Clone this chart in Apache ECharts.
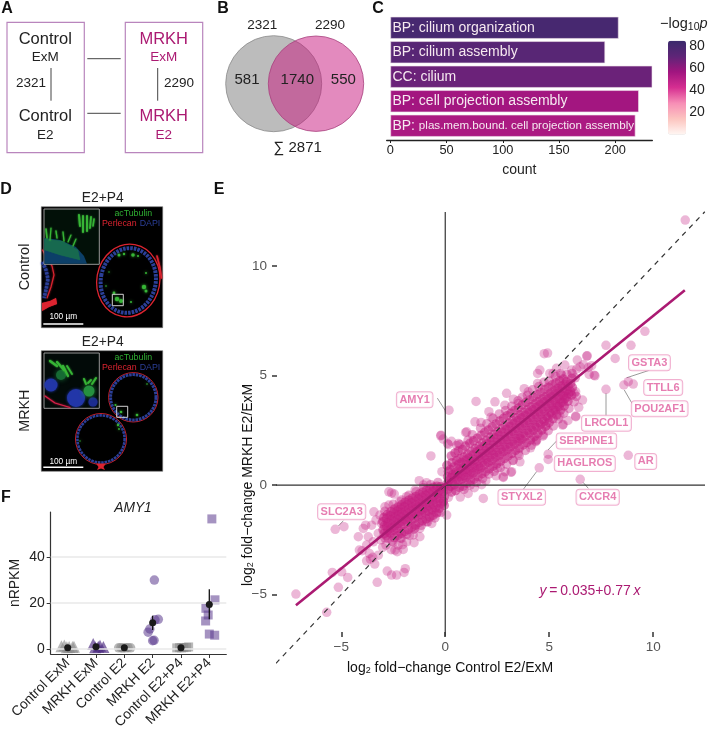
<!DOCTYPE html>
<html>
<head>
<meta charset="utf-8">
<script src="https://cdn.jsdelivr.net/npm/echarts@6/dist/echarts.min.js"></script>
<style>
  html, body { margin: 0; padding: 0; background: #fff; }
  #chart { width: 711px; height: 733px; }
</style>
</head>
<body>
<div id="chart"></div>
<script>
const FONT = '"Liberation Sans", Arial, sans-serif'
const MAGENTA = '#ab1a72'

// panel C
const goTerms = ['BP: cilium organization', 'BP: cilium assembly', 'CC: cilium', 'BP: cell projection assembly', 'BP: plas.mem.bound. cell projection assembly']
const goCounts = [203, 191, 233, 221, 218]
const goLogP = [80, 73, 68, 56, 54]
const logPTicks = [80, 60, 40, 20]

// panel F
const amyGroups = ['Control ExM', 'MRKH ExM', 'Control E2', 'MRKH E2', 'Control E2+P4', 'MRKH E2+P4']
const amyTicksY = [0, 20, 40]
const controlExm = [[-0.22, 1.2], [-0.12, 1.5], [-0.03, 0.8], [0.05, 0.9], [0.17, 0.9], [0.22, 1.0]]
const mrkhExm = [[0.9, 2.2], [0.97, 0.8], [1.08, 1.0], [1.14, 1.4], [1.26, 0.9]]
const controlE2 = [[1.8, 0.5], [1.88, 0.6], [1.95, 0.4], [2.05, 0.5], [2.13, 0.6], [2.22, 0.5]]
const mrkhE2 = [[3.06, 30], [2.9, 8.7], [2.84, 7.3], [3.2, 12.9], [3.08, 12.7], [3.05, 3.8], [3.0, 3.6]]
const controlE2P4 = [[3.85, 0.5], [3.95, 0.6], [4.02, 0.5], [4.1, 0.6], [4.2, 0.7], [4.27, 0.9]]
const mrkhE2P4 = [[5.09, 56.6], [5.2, 21.4], [4.88, 17.7], [4.96, 14.8], [4.87, 12.2], [5.0, 6.5], [5.19, 6.0]]
const amyMeans = [[0, 0.5], [1, 1], [2, 0.5], [3, 11.4], [4, 0.6], [5, 19.4]]
const amyErrors = [[3, 8.3, 14.5], [5, 12.9, 26]]

// panel E
const fcTicksX = [-5, 0, 5, 10]
const fcTicksY = [-5, 0, 5, 10]
const fitLine = [[-7.18, -5.49], [11.52, 8.9]]
const identityLine = [[-8.14, -8.14], [12.48, 12.48]]
const geneNames = ['AMY1', 'SLC2A3', 'GSTA3', 'TTLL6', 'POU2AF1', 'LRCOL1', 'SERPINE1', 'HAGLROS', 'AR', 'STYXL2', 'CXCR4']
const geneLabelX = [-1.47, -4.98, 9.82, 10.48, 10.31, 7.75, 6.79, 6.71, 9.64, 3.68, 7.33]
const geneLabelY = [3.9, -1.22, 5.59, 4.45, 3.49, 2.82, 2.01, 0.99, 1.08, -0.56, -0.56]
const geneLeaders = [
  [-0.38, 3.97, -0.01, 3.42], [-4.9, -1.63, -5.14, -1.87], [9.81, 5.24, 8.72, 4.9], [8.98, 3.73, 8.61, 4.34],
  [7.73, 3.16, 7.73, 4.19], [5.36, 2.02, 4.94, 1.6], [3.75, -0.2, 4.39, 0.61], [6.88, -0.15, 6.63, 0.12]
]

const fcOutliers = [
  [11.54, 12.1], [9.6, 7.02], [8.93, 6.38], [7.73, 6.38], [8.17, 5.78], [8.59, 4.57], [8.8, 4.72], [9.04, 4.61],
  [7.73, 4.37], [8.8, 1.36], [6.49, 0.26], [4.52, 0.79], [4.95, 1.41], [4.95, 1.17], [1.83, -0.61],
  [0.18, 3.42], [-0.22, 2.25], [-0.69, 1.33], [-0.16, 0.61], [0.11, 1.9], [0.63, 1.9], [0.98, 2.4],
  [-7.18, -4.98], [-5.7, -5.81], [-5.43, -3.99], [-4.98, -3.96], [-4.69, -4.22], [-5.14, -4.67], [-3.27, -4.44],
  [-2.79, -3.93], [-2.58, -4.11], [-2.34, -4.11], [-1.98, -3.99], [-1.92, -3.82], [-5.29, -2.02], [-4.87, -1.9],
  [0.07, -1.37], [0.15, -0.56]
]
const fcSpreadUpper = [
  [1.48, 3.82], [2.39, 3.8], [2.95, 4.19], [4.76, 6.0], [4.92, 6.03], [6.27, 3.15], [5.64, 2.74], [5.51, 3.15],
  [6.6, 3.88], [6.2, 4.19], [7.16, 5.02], [6.8, 5.89], [6.35, 5.71], [6.48, 5.4], [6.88, 5.37], [6.64, 5.5],
  [4.55, 5.25], [4.44, 4.64], [3.99, 4.26], [3.59, 1.06], [2.79, 0.38], [3.16, 0.58], [2.87, 0.61], [4.36, 1.98],
  [-0.2, 2.28], [-0.1, 2.1], [0.3, 2.0], [0.15, 1.85], [0.55, 1.81], [1.03, 2.43], [1.43, 2.89], [2.1, 3.35],
  [2.87, 3.65], [3.51, 3.73], [4.44, 5.1], [5.03, 5.1], [5.35, 5.33], [5.75, 5.48], [6.08, 5.25], [6.83, 5.9],
  [6.32, 5.3], [6.92, 5.05], [7.2, 4.99], [7.04, 5.45], [6.27, 4.26], [6.28, 3.12], [5.67, 2.77], [5.19, 5.1],
  [4.35, 2.02], [4.87, 2.71], [3.59, 2.13], [3.51, 1.45], [3.27, 1.14], [3.19, 0.61], [2.79, 0.35], [2.45, 0.42],
  [1.95, 0.2], [1.4, -0.12], [1.1, -0.38], [0.72, -0.55], [2.2, 3.1], [1.72, 2.86], [3.28, 3.92], [3.8, 4.4],
  [5.6, 5.02], [5.9, 2.95], [6.42, 3.55], [2.5, 0.78], [1.75, 0.02], [4.1, 1.7], [4.72, 2.3]
]
const fcSpreadLower = [
  [-4.18, -2.36], [-4.13, -2.97], [-3.83, -1.83], [-3.43, -1.22], [-2.71, -0.31], [-2.45, -0.41], [-2.58, -0.36],
  [-2.71, -0.91], [-0.65, -1.75], [-1.22, -2.36], [-1.5, -2.63], [-2.02, -2.94], [-2.31, -3.04], [-3.01, -2.85],
  [-3.22, -3.2], [-3.78, -3.46], [-3.39, -3.61], [-3.65, -3.12], [-3.94, -1.98], [-3.7, -2.36], [-3.78, -2.74],
  [-3.46, -2.59], [-3.22, -2.21], [-3.54, -1.83], [-3.33, -1.6], [-3.14, -1.37], [-2.9, -0.99], [-3.06, -1.75],
  [-2.85, -2.74], [-2.74, -2.44], [-2.5, -2.59], [-2.26, -2.74], [-2.42, -2.97], [-2.1, -2.44], [-1.86, -2.59],
  [-1.54, -2.28], [-1.22, -1.98], [-1.46, -1.98], [-0.91, -1.68], [-0.65, -1.37], [-0.33, -1.22], [-0.12, -0.84],
  [-1.25, 0.2], [-0.9, 0.11], [-1.05, 0.0], [-1.45, -0.23], [-1.86, -0.53], [-2.19, -0.76], [-3.49, -3.3],
  [-3.6, -3.38], [-3.1, -2.5], [-2.62, -2.2], [-2.2, -2.1], [-4.0, -3.0], [-2.6, -2.95], [-1.72, -2.3], [-2.05, -2.72]
]
const fcFringe = [
  [0.7, 1.85], [1.1, 2.05], [1.3, 2.3], [1.7, 2.6], [2.0, 2.8], [2.3, 3.05], [2.6, 3.25], [2.9, 3.4], [3.2, 3.6], [3.5, 3.85],
  [3.7, 4.0], [3.95, 4.1], [4.2, 4.35], [4.5, 4.5], [4.75, 4.7], [5.0, 4.75], [5.3, 4.95], [5.55, 5.1], [5.85, 5.05], [6.1, 5.1], [6.25, 4.9],
  [0.9, -0.2], [1.2, 0.0], [1.5, 0.12], [1.8, 0.3], [2.1, 0.5], [2.35, 0.62], [2.65, 0.8], [2.95, 0.95], [3.25, 1.12], [3.55, 1.35],
  [3.85, 1.58], [4.15, 1.82], [4.4, 2.06], [4.7, 2.24], [4.95, 2.48], [5.2, 2.7], [5.45, 3.02], [5.7, 3.28], [5.95, 3.5], [6.2, 3.8], [6.3, 4.05],
  [-2.9, -1.2], [-2.5, -0.88], [-2.1, -0.68], [-1.75, -0.47], [-1.4, -0.3], [-1.05, -0.12], [-0.7, 0.02], [-0.35, 0.12],
  [-2.9, -2.42], [-2.55, -2.55], [-2.15, -2.42], [-1.85, -2.25], [-1.5, -2.02], [-1.15, -1.84], [-0.85, -1.68], [-0.5, -1.5], [-0.2, -1.25]
]
const fcCoreUpper = [
  [0.14, -0.18], [0.09, 0.05], [0.17, 0.21], [0.11, 0.38], [0.15, 0.62], [0.08, 0.9],
  [0.31, -0.32], [0.26, -0.06], [0.34, 0.14], [0.28, 0.33], [0.35, 0.47], [0.25, 0.71], [0.33, 1.02], [0.29, 1.33],
  [0.5, -0.25], [0.44, 0.02], [0.53, 0.26], [0.46, 0.41], [0.51, 0.58], [0.42, 0.83], [0.55, 1.12], [0.47, 1.47],
  [0.68, -0.11], [0.63, 0.18], [0.72, 0.37], [0.61, 0.52], [0.7, 0.74], [0.64, 0.95], [0.71, 1.21], [0.62, 1.55],
  [0.86, -0.05], [0.8, 0.27], [0.89, 0.44], [0.81, 0.66], [0.87, 0.81], [0.79, 1.03], [0.9, 1.28], [0.83, 1.62],
  [1.05, 0.09], [0.98, 0.35], [1.07, 0.58], [0.99, 0.72], [1.04, 0.93], [1.0, 1.14], [1.08, 1.41], [0.97, 1.78],
  [1.22, 0.21], [1.16, 0.47], [1.25, 0.63], [1.17, 0.88], [1.23, 1.06], [1.15, 1.24], [1.26, 1.53], [1.18, 1.91],
  [1.4, 0.28], [1.34, 0.56], [1.43, 0.79], [1.35, 0.97], [1.41, 1.16], [1.33, 1.37], [1.44, 1.66], [1.36, 2.02],
  [1.58, 0.39], [1.52, 0.69], [1.61, 0.86], [1.53, 1.09], [1.59, 1.31], [1.51, 1.52], [1.62, 1.77], [1.54, 2.14],
  [1.76, 0.52], [1.7, 0.78], [1.79, 1.02], [1.71, 1.23], [1.77, 1.44], [1.69, 1.63], [1.8, 1.92], [1.72, 2.27],
  [1.94, 0.61], [1.88, 0.91], [1.97, 1.15], [1.89, 1.34], [1.95, 1.56], [1.87, 1.78], [1.98, 2.03], [1.9, 2.41],
  [2.12, 0.74], [2.06, 1.03], [2.15, 1.26], [2.07, 1.49], [2.13, 1.68], [2.05, 1.89], [2.16, 2.18], [2.08, 2.52],
  [2.3, 0.86], [2.24, 1.12], [2.33, 1.38], [2.25, 1.57], [2.31, 1.82], [2.23, 2.03], [2.34, 2.31], [2.26, 2.66],
  [2.48, 0.97], [2.42, 1.27], [2.51, 1.49], [2.43, 1.72], [2.49, 1.94], [2.41, 2.16], [2.52, 2.44], [2.44, 2.79],
  [2.66, 1.09], [2.6, 1.36], [2.69, 1.62], [2.61, 1.83], [2.67, 2.07], [2.59, 2.28], [2.7, 2.57], [2.62, 2.93],
  [2.84, 1.21], [2.78, 1.51], [2.87, 1.74], [2.79, 1.97], [2.85, 2.19], [2.77, 2.41], [2.88, 2.71], [2.8, 3.05],
  [3.02, 1.33], [2.96, 1.6], [3.05, 1.87], [2.97, 2.08], [3.03, 2.33], [2.95, 2.55], [3.06, 2.83], [2.98, 3.17],
  [3.2, 1.44], [3.14, 1.74], [3.23, 1.98], [3.15, 2.22], [3.21, 2.46], [3.13, 2.67], [3.24, 2.96], [3.16, 3.28],
  [3.38, 1.58], [3.32, 1.85], [3.41, 2.11], [3.33, 2.34], [3.39, 2.59], [3.31, 2.82], [3.42, 3.09], [3.34, 3.41],
  [3.56, 1.69], [3.5, 1.98], [3.59, 2.24], [3.51, 2.47], [3.57, 2.71], [3.49, 2.94], [3.6, 3.21], [3.52, 3.52],
  [3.74, 1.83], [3.68, 2.09], [3.77, 2.36], [3.69, 2.6], [3.75, 2.84], [3.67, 3.07], [3.78, 3.33], [3.7, 3.66],
  [3.92, 1.94], [3.86, 2.23], [3.95, 2.49], [3.87, 2.73], [3.93, 2.96], [3.85, 3.19], [3.96, 3.46], [3.88, 3.78],
  [4.1, 2.06], [4.04, 2.37], [4.13, 2.62], [4.05, 2.85], [4.11, 3.09], [4.03, 3.32], [4.14, 3.58], [4.06, 3.89],
  [4.28, 2.21], [4.22, 2.48], [4.31, 2.74], [4.23, 2.98], [4.29, 3.22], [4.21, 3.44], [4.32, 3.71], [4.24, 4.01],
  [4.46, 2.36], [4.4, 2.62], [4.49, 2.87], [4.41, 3.11], [4.47, 3.34], [4.39, 3.57], [4.5, 3.83], [4.42, 4.13],
  [4.64, 2.51], [4.58, 2.76], [4.67, 3.01], [4.59, 3.24], [4.65, 3.47], [4.57, 3.69], [4.68, 3.94], [4.6, 4.24],
  [4.82, 2.68], [4.76, 2.91], [4.85, 3.14], [4.77, 3.37], [4.83, 3.59], [4.75, 3.81], [4.86, 4.06], [4.78, 4.36],
  [5.0, 2.86], [4.94, 3.07], [5.03, 3.29], [4.95, 3.51], [5.01, 3.72], [4.93, 3.94], [5.04, 4.18], [4.96, 4.47],
  [5.18, 3.03], [5.12, 3.24], [5.21, 3.43], [5.13, 3.64], [5.19, 3.85], [5.11, 4.06], [5.22, 4.29], [5.14, 4.58],
  [5.36, 3.21], [5.3, 3.41], [5.39, 3.58], [5.31, 3.78], [5.37, 3.97], [5.29, 4.18], [5.4, 4.41], [5.32, 4.67],
  [5.54, 3.42], [5.48, 3.59], [5.57, 3.76], [5.49, 3.93], [5.55, 4.11], [5.47, 4.29], [5.58, 4.52], [5.5, 4.76],
  [5.72, 3.61], [5.66, 3.79], [5.75, 3.94], [5.67, 4.08], [5.73, 4.24], [5.65, 4.41], [5.76, 4.61], [5.68, 4.84],
  [5.9, 3.83], [5.84, 4.02], [5.93, 4.17], [5.85, 4.33], [5.91, 4.51], [5.83, 4.72],
  [6.08, 4.11], [6.02, 4.28], [6.11, 4.46], [6.03, 4.63], [6.09, 4.88]
]
const fcCoreLower = [
  [-0.06, -0.12], [-0.11, -0.3], [-0.04, -0.52], [-0.09, -0.74], [-0.05, -0.93],
  [-0.23, -0.08], [-0.28, -0.24], [-0.21, -0.41], [-0.27, -0.63], [-0.22, -0.85], [-0.29, -1.07],
  [-0.4, -0.05], [-0.45, -0.22], [-0.38, -0.43], [-0.44, -0.61], [-0.39, -0.82], [-0.46, -1.04], [-0.41, -1.27],
  [-0.57, -0.1], [-0.62, -0.28], [-0.55, -0.5], [-0.61, -0.69], [-0.56, -0.9], [-0.63, -1.12], [-0.58, -1.38],
  [-0.74, -0.16], [-0.79, -0.37], [-0.72, -0.58], [-0.78, -0.78], [-0.73, -0.97], [-0.8, -1.19], [-0.75, -1.46],
  [-0.91, -0.24], [-0.96, -0.45], [-0.89, -0.66], [-0.95, -0.85], [-0.9, -1.05], [-0.97, -1.26], [-0.92, -1.54],
  [-1.08, -0.33], [-1.13, -0.54], [-1.06, -0.74], [-1.12, -0.94], [-1.07, -1.14], [-1.14, -1.35], [-1.09, -1.63],
  [-1.25, -0.41], [-1.3, -0.62], [-1.23, -0.83], [-1.29, -1.02], [-1.24, -1.23], [-1.31, -1.44], [-1.26, -1.71],
  [-1.42, -0.52], [-1.47, -0.73], [-1.4, -0.92], [-1.46, -1.11], [-1.41, -1.31], [-1.48, -1.52], [-1.43, -1.83],
  [-1.59, -0.6], [-1.64, -0.81], [-1.57, -1.0], [-1.63, -1.2], [-1.58, -1.4], [-1.65, -1.61], [-1.6, -1.92],
  [-1.76, -0.69], [-1.81, -0.89], [-1.74, -1.09], [-1.8, -1.29], [-1.75, -1.49], [-1.82, -1.7], [-1.77, -2.03],
  [-1.93, -0.78], [-1.98, -0.98], [-1.91, -1.18], [-1.97, -1.37], [-1.92, -1.57], [-1.99, -1.79], [-1.94, -2.12],
  [-2.1, -0.9], [-2.15, -1.09], [-2.08, -1.27], [-2.14, -1.46], [-2.09, -1.66], [-2.16, -1.88], [-2.11, -2.21],
  [-2.27, -1.0], [-2.32, -1.18], [-2.25, -1.36], [-2.31, -1.56], [-2.26, -1.76], [-2.33, -1.98], [-2.28, -2.3],
  [-2.44, -1.09], [-2.49, -1.27], [-2.42, -1.46], [-2.48, -1.65], [-2.43, -1.86], [-2.5, -2.08], [-2.45, -2.4],
  [-2.61, -1.21], [-2.66, -1.4], [-2.59, -1.59], [-2.65, -1.78], [-2.6, -1.97], [-2.67, -2.18],
  [-2.78, -1.34], [-2.83, -1.53], [-2.76, -1.72], [-2.82, -1.9], [-2.77, -2.08], [-2.84, -2.31],
  [-2.95, -1.48], [-3.0, -1.67], [-2.93, -1.86], [-2.99, -2.04], [-2.94, -2.22]
]

// pixel helpers for the drawn annotations
const txt = (x, y, text, size, color, extra) => ({
  type: 'text', x, y, silent: true,
  rotation: extra && extra.rotation || 0,
  style: Object.assign({ text, fontFamily: FONT, fontSize: size, fill: color || '#222', align: 'center', verticalAlign: 'middle' }, extra && extra.style)
})
const seg = (x1, y1, x2, y2, color, w) => ({ type: 'line', silent: true, shape: { x1, y1, x2, y2 }, style: { stroke: color || '#444', lineWidth: w || 1 } })
const box = (x, y, w, h, stroke, fill, lw) => ({ type: 'rect', silent: true, shape: { x, y, width: w, height: h }, style: { stroke: stroke || null, fill: fill || null, lineWidth: lw || 1 } })
const glow = (cx, cy, r, color, blur) => ({ type: 'circle', silent: true, shape: { cx, cy, r }, style: { fill: color, shadowBlur: blur === undefined ? 3 : blur, shadowColor: color } })
const oval = (cx, cy, rx, ry, stroke, lw, dash, rot) => ({
  type: 'ellipse', silent: true, shape: { cx, cy, rx, ry }, rotation: rot || 0, originX: cx, originY: cy,
  style: { stroke, fill: null, lineWidth: lw, lineDash: dash || null }
})
const poly = (points, fill, blur) => ({ type: 'polygon', silent: true, shape: { points }, style: { fill, shadowBlur: blur || 0, shadowColor: fill } })
const stroke = (points, color, w, dash) => ({ type: 'polyline', silent: true, shape: { points }, style: { stroke: color, lineWidth: w, fill: null, lineCap: dash ? 'butt' : 'round', lineDash: dash || null, shadowBlur: 2, shadowColor: color } })

const GREEN = '#37b536', RED = '#dc2430', BLUE = '#2b3f98'

const panelA = [
  box(7, 22.3, 77.3, 130.4, '#b985bd', null, 1.2), box(125.3, 22.3, 77.4, 130.4, '#b985bd', null, 1.2),
  txt(45.3, 39.5, 'Control', 16.5), txt(45.3, 57.5, 'ExM', 13.5), txt(31, 83, '2321', 13.5), seg(51, 68, 51, 100.7),
  txt(45.3, 116.7, 'Control', 16.5), txt(45.3, 134.8, 'E2', 13.5),
  seg(87.3, 58.7, 120.7, 58.7), seg(87.3, 113.3, 120.7, 113.3),
  txt(163.7, 39.5, 'MRKH', 16.5, MAGENTA), txt(163.7, 57.5, 'ExM', 13.5, MAGENTA), seg(157.7, 68, 157.7, 100.7),
  txt(179, 83, '2290', 13.5), txt(163.7, 116.7, 'MRKH', 16.5, MAGENTA), txt(163.7, 134.8, 'E2', 13.5, MAGENTA)
]
const panelB = [
  { type: 'circle', silent: true, shape: { cx: 273.7, cy: 83.7, r: 48 }, style: { fill: '#bcbcbc', stroke: '#8c8c8c', lineWidth: 0.8 } },
  { type: 'circle', silent: true, shape: { cx: 316, cy: 83.7, r: 47.7 }, style: { fill: 'rgba(199,21,125,0.5)', stroke: '#a8427f', lineWidth: 0.8 } },
  txt(247, 79.5, '581', 15), txt(297.3, 79.5, '1740', 15), txt(343.3, 79.5, '550', 15),
  txt(262.3, 25.7, '2321', 13.5), txt(330, 25.7, '2290', 13.5), txt(297.7, 147.7, '∑ 2871', 15)
]
const legendC = [
  { type: 'text', x: 660, y: 24, silent: true, style: {
    text: '−log{sub|10}{it|p}', fontFamily: FONT, fontSize: 14.5, fill: '#222', verticalAlign: 'middle',
    rich: { sub: { fontFamily: FONT, fontSize: 10.5, fill: '#222', verticalAlign: 'bottom', padding: [6, 0, 0, 0] }, it: { fontFamily: FONT, fontSize: 14.5, fontStyle: 'italic', fill: '#222' } } } },
  ...logPTicks.map(v => txt(697, 134 - v * 1.1, String(v), 14, '#222')),
  ...logPTicks.map(v => seg(683, 134 - v * 1.1, 686, 134 - v * 1.1, v > 50 ? '#3f2a6e' : '#f7cfd6', 1)),
  txt(519.3, 170, 'count', 14)
]

const panelD = [
  txt(102.7, 198.3, 'E2+P4', 13.8), txt(102.7, 342.3, 'E2+P4', 13.8),
  txt(25, 267, 'Control', 14.5, '#222', { rotation: Math.PI / 2 }), txt(25, 410.7, 'MRKH', 14.3, '#222', { rotation: Math.PI / 2 }),
  // control image
  box(41.3, 206.7, 121.4, 121, '#777', '#000', 0.6),
  oval(128.3, 280.5, 31.5, 36.5, RED, 1.3, null, -0.18),
  oval(128.3, 280.5, 27.5, 32.5, BLUE, 4, [2.6, 1], -0.18),
  glow(117, 299, 2.2, GREEN), glow(121, 301, 2, GREEN), glow(114, 293, 1.4, GREEN), glow(131, 302, 1, GREEN),
  glow(119, 255, 1.5, GREEN), glow(124, 254, 1.2, GREEN), glow(133, 255, 1.8, GREEN), glow(138, 256, 1.1, GREEN),
  glow(146, 273, 1, GREEN), glow(144, 287, 2.2, GREEN), glow(146, 291, 1.5, GREEN), glow(106, 286, 0.8, GREEN), glow(109, 272, 0.7, GREEN),
  stroke([[42.5, 250], [47, 258], [52, 266], [54, 275], [51, 287], [47, 298]], RED, 1.1),
  stroke([[42.5, 262], [46, 270], [48, 279], [46, 290], [44, 298]], BLUE, 3.5, [2.4, 1.2]),
  poly([[42, 303], [50, 301], [56, 298], [57, 304], [49, 307], [42, 311]], RED, 1),
  stroke([[157, 256], [160, 268], [161.5, 278]], RED, 1.6),
  box(112.3, 294.3, 11, 11.4, '#e6e6e6', null, 0.9),
  box(44, 209, 55.3, 55.3, '#a8a8a8', '#021008', 0.9),
  poly([[44.5, 263.8], [44.5, 238], [60, 240], [76, 247], [84, 256], [87, 263.8]], '#0c3f68'),
  poly([[44.5, 250], [44.5, 239], [62, 241], [78, 250], [80, 260], [60, 255]], '#17694f', 1),
  stroke([[47, 238], [46, 229]], GREEN, 1.6), stroke([[50, 240], [51, 228]], GREEN, 1.2), stroke([[57, 238], [56, 231]], GREEN, 1.4),
  stroke([[64, 241], [63, 232]], GREEN, 1.3), stroke([[68, 242], [71, 235]], GREEN, 1.2), stroke([[73, 246], [76, 239]], GREEN, 1.2),
  stroke([[80, 226], [79, 215]], GREEN, 2), stroke([[83, 232], [83, 216]], GREEN, 2), stroke([[87, 231], [87, 216]], GREEN, 2),
  stroke([[90, 228], [91, 217]], GREEN, 1.8), stroke([[93, 226], [94, 219]], GREEN, 1.6),
  txt(133.3, 213.3, 'acTubulin', 8.8, '#2fae32'), txt(119.3, 224, 'Perlecan', 8.8, RED), txt(150, 224, 'DAPI', 8.8, BLUE),
  seg(43.3, 324, 83.3, 324, '#fff', 1.4), txt(63.3, 317, '100 µm', 8.3, '#fff'),
  // MRKH image
  box(41.3, 350.7, 121.4, 120.6, '#777', '#000', 0.6),
  { type: 'circle', silent: true, shape: { cx: 133.3, cy: 397.3, r: 24.7 }, style: { stroke: RED, fill: null, lineWidth: 0.9 } },
  { type: 'circle', silent: true, shape: { cx: 133.3, cy: 397.3, r: 22.7 }, style: { stroke: BLUE, fill: null, lineWidth: 3, lineDash: [2.6, 0.8] } },
  { type: 'circle', silent: true, shape: { cx: 101, cy: 439, r: 25.5 }, style: { stroke: RED, fill: null, lineWidth: 0.9 } },
  { type: 'circle', silent: true, shape: { cx: 101, cy: 439, r: 23.6 }, style: { stroke: BLUE, fill: null, lineWidth: 2.6, lineDash: [2.6, 0.8] } },
  poly([[96, 463.5], [106, 463.5], [103.5, 467], [105, 470], [101, 468.5], [97, 470], [98.5, 467]], RED),
  glow(115.5, 405, 1.1, GREEN), glow(121, 412, 1.3, GREEN), glow(137, 415, 1.3, GREEN), glow(147, 384, 0.8, GREEN), glow(118, 425, 1.2, GREEN), glow(119, 429, 0.9, GREEN), glow(80, 441, 0.7, GREEN),
  box(116.7, 406.3, 11, 11, '#e6e6e6', null, 0.9),
  box(44, 353, 55.3, 55.3, '#a8a8a8', '#020a08', 0.9),
  glow(51, 385, 6.5, '#2236a8', 3), glow(76, 398, 9, '#2236a8', 3), glow(93, 402, 4.5, '#1c2c90', 2),
  stroke([[45, 396], [55, 403], [70, 407.5]], '#d8204a', 1.2),
  glow(61, 375, 5, '#166a34', 5), glow(89, 391, 5.5, '#25903f', 5),
  stroke([[50, 361], [57, 366]], GREEN, 2.2), stroke([[57, 362], [64, 370]], GREEN, 2.2), stroke([[63, 366], [68, 376]], GREEN, 2.2), stroke([[67, 366], [72, 374]], GREEN, 1.8),
  stroke([[86, 384], [84, 379]], GREEN, 2), stroke([[92, 384], [96, 378]], GREEN, 2), stroke([[88, 383], [91, 380]], GREEN, 1.8),
  txt(133.3, 357.3, 'acTubulin', 8.8, '#2fae32'), txt(119.3, 368, 'Perlecan', 8.8, RED), txt(150, 368, 'DAPI', 8.8, BLUE),
  seg(43.3, 467.3, 83.3, 467.3, '#fff', 1.4), txt(63.3, 461.3, '100 µm', 8.3, '#fff')
]

const panelE = [
  { type: 'text', x: 347, y: 668, silent: true, style: {
    text: 'log{s|2} fold−change Control E2/ExM', fontFamily: FONT, fontSize: 14, fill: '#111', verticalAlign: 'middle',
    rich: { s: { fontFamily: FONT, fontSize: 9, fill: '#111', padding: [6, 0, 0, 0] } } } },
  { type: 'text', x: 248, y: 586, rotation: Math.PI / 2, silent: true, style: {
    text: 'log{s|2} fold−change MRKH E2/ExM', fontFamily: FONT, fontSize: 14, fill: '#111', verticalAlign: 'middle',
    rich: { s: { fontFamily: FONT, fontSize: 9, fill: '#111', padding: [6, 0, 0, 0] } } } },
  { type: 'text', x: 590, y: 590.7, silent: true, style: {
    text: '{i|y}\u2009=\u20090.035+0.77\u2009{i|x}', fontFamily: FONT, fontSize: 14, fill: MAGENTA, align: 'center', verticalAlign: 'middle',
    rich: { i: { fontFamily: FONT, fontSize: 14, fontStyle: 'italic', fill: MAGENTA } } } }
]
const panelF = [
  txt(133, 508, 'AMY1', 13.8, '#222', { style: { fontStyle: 'italic' } }),
  txt(15, 583, 'nRPKM', 14, '#222', { rotation: Math.PI / 2 })
]
const panelLetters = [['A', 7, 9], ['B', 223, 9], ['C', 378, 9], ['D', 6, 190], ['E', 219, 190], ['F', 6, 498]]
  .map(l => txt(l[1], l[2], l[0], 16, '#111', { style: { fontWeight: 'bold' } }))

const pointSeries = (data, symbol, size, color, opacity) => ({
  type: 'scatter', xAxisIndex: 2, yAxisIndex: 2, data, symbol, symbolSize: size, silent: true,
  itemStyle: { color, opacity }
})
const fcSeries = (data, opacity) => ({
  type: 'scatter', xAxisIndex: 1, yAxisIndex: 1, data, symbolSize: 9.5, silent: true,
  itemStyle: { color: '#c41f82', opacity }
})
const pathSeries = (data, color, width, type) => ({
  type: 'line', xAxisIndex: 1, yAxisIndex: 1, data, symbol: 'none', clip: false, silent: true,
  lineStyle: { color, width, type: type || 'solid' }
})

const chart = echarts.init(document.getElementById('chart'))
chart.setOption({
  animation: false,
  textStyle: { fontFamily: FONT },
  grid: [
    { left: 386.7, top: 15.5, width: 265.6, height: 122.5 },
    { left: 277, top: 212, width: 428, height: 420 },
    { left: 50.7, top: 512, width: 175.6, height: 142 }
  ],
  xAxis: [
    {
      gridIndex: 0, type: 'value', min: -3.3, max: 233, offset: 2,
      axisLine: { show: true, onZero: false, lineStyle: { color: '#222', width: 1.4 } },
      axisTick: { show: true, length: 3, lineStyle: { color: '#222' }, customValues: [0, 50, 100, 150, 200] },
      axisLabel: { color: '#222', fontSize: 12.8, margin: 4, customValues: [0, 50, 100, 150, 200] },
      splitLine: { show: false }
    },
    {
      gridIndex: 1, type: 'value', min: -8.09, max: 12.49,
      axisLine: { show: false, onZero: false },
      axisTick: { show: true, length: 5, lineStyle: { color: '#333', width: 1.5 }, customValues: fcTicksX },
      axisLabel: { color: '#555', fontSize: 13.5, margin: 8, customValues: fcTicksX, formatter: v => String(v).replace('-', '−') },
      splitLine: { show: false }
    },
    {
      gridIndex: 2, type: 'value', min: -0.6, max: 5.6,
      axisLine: { show: true, onZero: false, lineStyle: { color: '#333', width: 1.2 } },
      axisTick: { show: true, length: 4, lineStyle: { color: '#333' }, customValues: [0, 1, 2, 3, 4, 5] },
      axisLabel: { color: '#222', fontSize: 13.8, rotate: 45, margin: 7, customValues: [0, 1, 2, 3, 4, 5], formatter: v => amyGroups[v] },
      splitLine: { show: false }
    }
  ],
  yAxis: [
    {
      gridIndex: 0, type: 'category', inverse: true, data: goTerms,
      axisLine: { show: false }, axisTick: { show: false }, axisLabel: { show: false }
    },
    {
      gridIndex: 1, type: 'value', min: -6.71, max: 12.47,
      axisLine: { show: false, onZero: false },
      axisTick: { show: true, length: 5, lineStyle: { color: '#333', width: 1.5 }, customValues: fcTicksY },
      axisLabel: { color: '#555', fontSize: 13.5, margin: 10, customValues: fcTicksY, formatter: v => String(v).replace('-', '−') },
      splitLine: { show: false }
    },
    {
      gridIndex: 2, type: 'value', min: -2.17, max: 59.6,
      axisLine: { show: true, onZero: false, lineStyle: { color: '#333', width: 1.2 } },
      axisTick: { show: true, length: 4, lineStyle: { color: '#333' }, customValues: amyTicksY },
      axisLabel: { color: '#222', fontSize: 14, margin: 6, customValues: amyTicksY },
      splitLine: { show: false }
    }
  ],
  visualMap: {
    type: 'continuous', seriesIndex: 0, dimension: 2, min: 0, max: 85, show: true,
    left: 653, top: 25.7, itemWidth: 18, itemHeight: 94, hoverLink: false, calculable: false,
    inRange: { color: ['#fff7f3', '#fcc5c0', '#f78fb6', '#d62f91', '#a1157f', '#5e2577', '#3a2a6c'] }
  },
  series: [
    {
      type: 'bar', xAxisIndex: 0, yAxisIndex: 0, barWidth: 22, silent: true,
      data: goCounts.map((c, i) => [c, i, goLogP[i]]),
      encode: { x: 0, y: 1 },
      itemStyle: { borderColor: '#efe0ea', borderWidth: 0.6 },
      label: {
        show: true, position: 'insideLeft', distance: 2, color: '#f6e9f0', fontSize: 14, fontFamily: FONT,
        formatter: p => p.dataIndex === 4 ? 'BP: {small|plas.mem.bound. cell projection assembly}' : goTerms[p.dataIndex],
        rich: { small: { fontSize: 11.6, color: '#f6e9f0', fontFamily: FONT } }
      }
    },
    {
      type: 'line', xAxisIndex: 2, yAxisIndex: 2, data: [], silent: true,
      markLine: {
        silent: true, symbol: 'none', label: { show: false },
        lineStyle: { color: '#e9e9e9', width: 1.6, type: 'solid' },
        data: amyTicksY.map(v => ({ yAxis: v }))
      }
    },
    pointSeries(controlExm, 'triangle', 12, '#8a8a8a', 0.6),
    pointSeries(mrkhExm, 'triangle', 12, '#4b2a80', 0.65),
    pointSeries(controlE2, 'circle', 9.5, '#8a8a8a', 0.6),
    pointSeries(mrkhE2, 'circle', 9.5, '#5b3a8e', 0.55),
    pointSeries(controlE2P4, 'rect', 9, '#8a8a8a', 0.6),
    pointSeries(mrkhE2P4, 'rect', 9, '#5b3a8e', 0.55),
    {
      type: 'custom', xAxisIndex: 2, yAxisIndex: 2, data: amyErrors, silent: true, z: 4,
      renderItem: (params, api) => {
        const a = api.coord([api.value(0), api.value(1)])
        const b = api.coord([api.value(0), api.value(2)])
        return { type: 'line', shape: { x1: a[0], y1: a[1], x2: b[0], y2: b[1] }, style: { stroke: '#111', lineWidth: 1.3 } }
      }
    },
    Object.assign(pointSeries(amyMeans, 'circle', 7, '#1a1a1a', 1), { z: 5 }),
    pathSeries([[-8.33, 0], [12.49, 0]], '#333', 1.2),
    pathSeries([[0, -6.9], [0, 12.47]], '#333', 1.2),
    fcSeries(fcOutliers, 0.32),
    fcSeries(fcSpreadUpper, 0.32),
    fcSeries(fcSpreadLower, 0.32),
    fcSeries(fcFringe, 0.4),
    fcSeries(fcCoreUpper, 0.55),
    fcSeries(fcCoreLower, 0.55),
    pathSeries(identityLine, '#333', 1.2, [5, 5]),
    pathSeries(fitLine, MAGENTA, 2.6),
    {
      type: 'custom', xAxisIndex: 1, yAxisIndex: 1, data: geneLeaders, silent: true,
      renderItem: (params, api) => {
        const a = api.coord([api.value(0), api.value(1)])
        const b = api.coord([api.value(2), api.value(3)])
        return { type: 'line', shape: { x1: a[0], y1: a[1], x2: b[0], y2: b[1] }, style: { stroke: '#808080', lineWidth: 0.8 } }
      }
    },
    {
      type: 'scatter', xAxisIndex: 1, yAxisIndex: 1, symbolSize: 1, silent: true, itemStyle: { color: 'rgba(0,0,0,0)' },
      data: geneNames.map((n, i) => [geneLabelX[i], geneLabelY[i], n]),
      label: {
        show: true, position: 'inside', formatter: p => p.data[2], color: '#e05c9e', fontWeight: 'bold', fontSize: 11, fontFamily: FONT,
        backgroundColor: '#fff', borderColor: '#ee9cc4', borderWidth: 1, borderRadius: 3, padding: [2, 2.5]
      }
    }
  ],
  graphic: { elements: [...panelLetters, ...panelA, ...panelB, ...legendC, ...panelD, ...panelE, ...panelF] }
})
</script>
</body>
</html>
